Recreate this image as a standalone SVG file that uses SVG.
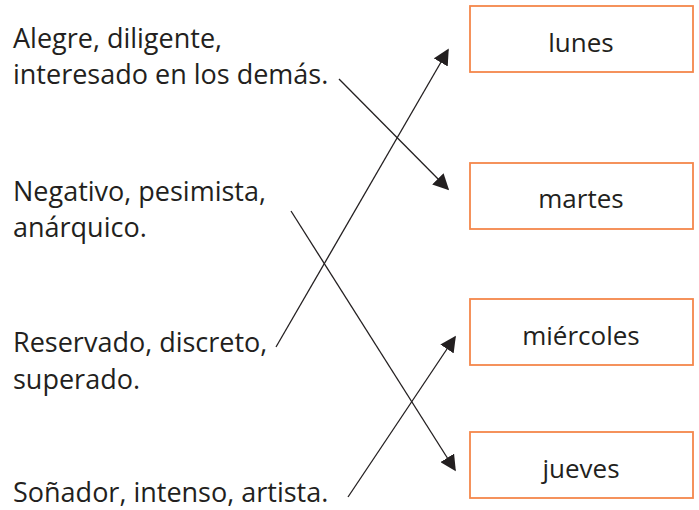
<svg xmlns="http://www.w3.org/2000/svg" width="699" height="510" viewBox="0 0 699 510">
<defs>
<style>
.t{font-family:"Open Sans","Noto Sans",sans-serif;font-size:27px;fill:#231f20}
.c{text-anchor:middle;font-size:26px}
.box{fill:#fff;stroke:#f4874b;stroke-width:1.8}
.ln{stroke:#231f20;stroke-width:1.3;fill:none;marker-end:url(#ah)}
</style>
<marker id="ah" viewBox="0 0 10 10" refX="9" refY="5" markerWidth="16" markerHeight="16" markerUnits="userSpaceOnUse" orient="auto">
<path d="M0,0 L10,5 L0,10 Z" fill="#231f20"/>
</marker>
</defs>
<rect width="699" height="510" fill="#fff"/>
<g id="left-alegre"><text class="t" x="13" y="48">Alegre, diligente,</text><text class="t" x="13" y="84">interesado en los demás.</text></g>
<g id="left-negativo"><text class="t" x="13" y="201">Negativo, pesimista,</text><text class="t" x="13" y="237">anárquico.</text></g>
<g id="left-reservado"><text class="t" x="13" y="352">Reservado, discreto,</text><text class="t" x="13" y="389">superado.</text></g>
<g id="left-sonador"><text class="t" x="13" y="502">Soñador, intenso, artista.</text></g>
<g id="box-lunes"><rect class="box" x="470" y="6" width="223" height="66"/><text class="t c" x="581" y="52">lunes</text></g>
<g id="box-martes"><rect class="box" x="470" y="163" width="223" height="66"/><text class="t c" x="581" y="208">martes</text></g>
<g id="box-miercoles"><rect class="box" x="470" y="299" width="223" height="66"/><text class="t c" x="581" y="345">miércoles</text></g>
<g id="box-jueves"><rect class="box" x="470" y="432" width="223" height="66"/><text class="t c" x="581" y="478">jueves</text></g>
<g id="connectors">
<line class="ln" x1="339" y1="79" x2="448" y2="189"/>
<line class="ln" x1="276" y1="347" x2="448" y2="50"/>
<line class="ln" x1="291" y1="211" x2="455" y2="470"/>
<line class="ln" x1="348" y1="497" x2="455" y2="337"/>
</g>
</svg>
